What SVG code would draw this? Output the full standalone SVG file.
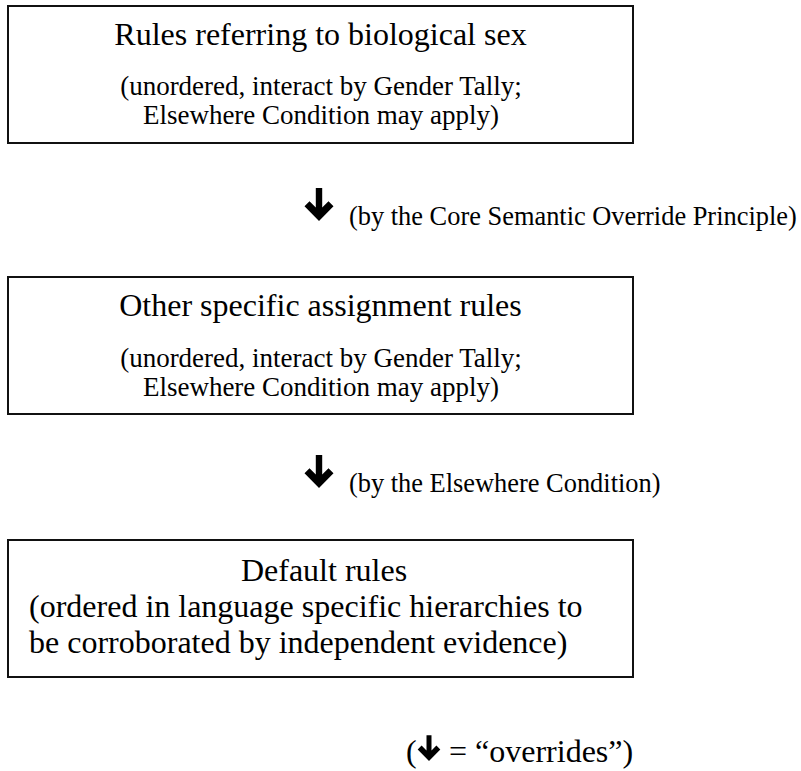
<svg xmlns="http://www.w3.org/2000/svg" width="801" height="771" viewBox="0 0 801 771">
<style>
.box{fill:#fff;stroke:#111;stroke-width:2}
text{font-family:"Liberation Serif","Times New Roman",serif;fill:#000}
.t{font-size:32px}
.s{font-size:27px}
.l{font-size:26.4px}
.m{text-anchor:middle}
</style>
<defs>
<path id="arr" d="M-3.2,-33 L3.2,-33 L3.2,-13.5 L9.5,-19.8 L14.5,-14.8 L0,0 L-14.5,-14.8 L-9.5,-19.8 L-3.2,-13.5 Z" fill="#000"/>
</defs>
<rect width="801" height="771" fill="#fff"/>
<g id="node-sex">
<rect class="box" x="8" y="6" width="625" height="137"/>
<text class="t m" x="320.5" y="45">Rules referring to biological sex</text>
<text class="s m" x="321" y="94.5">(unordered, interact by Gender Tally;</text>
<text class="s m" x="321" y="124">Elsewhere Condition may apply)</text>
</g>
<g id="node-specific">
<rect class="box" x="8" y="277" width="625" height="137"/>
<text class="t m" x="320.5" y="316">Other specific assignment rules</text>
<text class="s m" x="321" y="366.5">(unordered, interact by Gender Tally;</text>
<text class="s m" x="321" y="395.5">Elsewhere Condition may apply)</text>
</g>
<g id="node-default">
<rect class="box" x="8" y="540" width="625" height="137"/>
<text class="t m" x="324" y="581">Default rules</text>
<text class="t" x="29" y="617">(ordered in language specific hierarchies to</text>
<text class="t" x="29" y="653">be corroborated by independent evidence)</text>
</g>
<g id="connectors">
<use href="#arr" transform="translate(319,221)"/>
<text class="l" x="349" y="224.5">(by the Core Semantic Override Principle)</text>
<use href="#arr" transform="translate(319,488)"/>
<text class="l" x="349" y="491.5">(by the Elsewhere Condition)</text>
</g>
<g id="legend">
<text class="t" x="406" y="762">(</text>
<use href="#arr" transform="translate(429,761) scale(0.78)"/>
<text class="t" x="449" y="762">= “overrides”)</text>
</g>
</svg>
